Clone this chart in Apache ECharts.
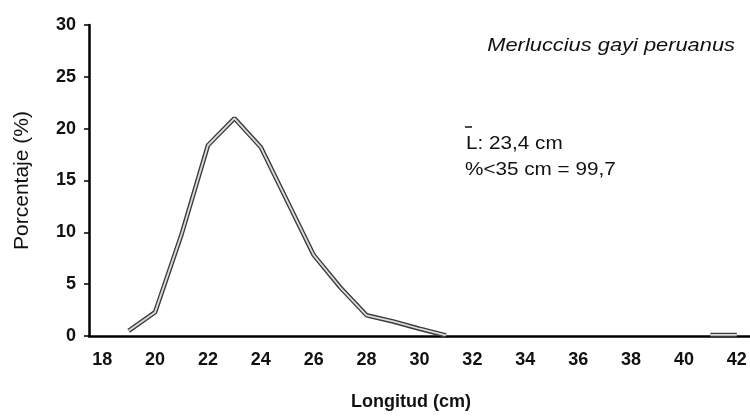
<!DOCTYPE html>
<html>
<head>
<meta charset="utf-8">
<script src="https://cdn.jsdelivr.net/npm/echarts@6/dist/echarts.min.js"></script>
<style>
  html, body { margin: 0; padding: 0; background: #fff; }
  #chart { width: 750px; height: 416px; }
</style>
</head>
<body>
<div id="chart"></div>
<script>
// longitud (cm) categories
const lengths = ['18', '19', '20', '21', '22', '23', '24', '25', '26', '27', '28', '29', '30',
  '31', '32', '33', '34', '35', '36', '37', '38', '39', '40', '41', '42']
// porcentaje (%) por talla
const percent = [null, 0.5, 2.3, 9.8, 18.4, 21.0, 18.2, 13.0, 7.8, 4.7, 2.0, 1.4, 0.7,
  0.05, null, null, null, null, null, null, null, null, null, 0.1, 0.1]
const yTicks = [0, 5, 10, 15, 20, 25, 30]

const font = 'Liberation Sans, Arial, sans-serif'
// the scanned figure is a bit wider than tall
const stretch = 1.15

const option = {
  animation: false,
  backgroundColor: '#fff',
  grid: {
    left: 89,
    right: 0,
    top: 25,
    bottom: 74
  },
  xAxis: {
    type: 'category',
    data: lengths,
    boundaryGap: true,
    name: 'Longitud (cm)',
    nameLocation: 'middle',
    nameGap: 57,
    nameTextStyle: {
      fontFamily: font,
      fontWeight: 'bold',
      fontSize: 18,
      color: '#111',
      padding: [0, 17, 0, 0]
    },
    axisLine: { lineStyle: { color: '#000', width: 2.5 } },
    axisTick: { interval: 0, length: 5, lineStyle: { color: '#000', width: 1.5 } },
    axisLabel: {
      interval: 1,
      margin: 15,
      fontFamily: font,
      fontWeight: 'bold',
      fontSize: 18,
      color: '#111'
    },
    splitLine: { show: false }
  },
  yAxis: {
    type: 'value',
    min: yTicks[0],
    max: yTicks[yTicks.length - 1],
    interval: 5,
    name: 'Porcentaje (%)',
    nameLocation: 'middle',
    nameGap: 56,
    nameTextStyle: {
      fontFamily: font,
      fontSize: 21,
      color: '#111'
    },
    axisLine: { show: true, lineStyle: { color: '#000', width: 2.5 } },
    axisTick: { show: true, length: 5, lineStyle: { color: '#000', width: 1.5 } },
    axisLabel: {
      margin: 13,
      fontFamily: font,
      fontWeight: 'bold',
      fontSize: 18,
      color: '#111'
    },
    splitLine: { show: false }
  },
  graphic: [
    {
      type: 'text',
      x: 735,
      y: 36,
      scaleX: stretch,
      style: {
        text: 'Merluccius gayi peruanus',
        align: 'right',
        verticalAlign: 'top',
        fontFamily: font,
        fontStyle: 'italic',
        fontSize: 19,
        fill: '#111'
      }
    },
    {
      type: 'line',
      shape: { x1: 465, y1: 127, x2: 472, y2: 127 },
      style: { stroke: '#111', lineWidth: 1.5 }
    },
    {
      type: 'text',
      x: 466,
      y: 135,
      scaleX: stretch,
      style: { text: 'L: 23,4 cm', verticalAlign: 'top', fontFamily: font, fontSize: 18, fill: '#111' }
    },
    {
      type: 'text',
      x: 465,
      y: 161,
      scaleX: stretch,
      style: { text: '%<35 cm = 99,7', verticalAlign: 'top', fontFamily: font, fontSize: 18, fill: '#111' }
    }
  ],
  series: [
    {
      type: 'line',
      data: percent,
      showSymbol: false,
      connectNulls: false,
      lineStyle: { color: '#3a3a3a', width: 4.5 },
      z: 3
    },
    {
      type: 'line',
      data: percent,
      showSymbol: false,
      connectNulls: false,
      lineStyle: { color: '#dcdcdc', width: 1.8 },
      z: 4
    }
  ]
}

const chart = echarts.init(document.getElementById('chart'))
chart.setOption(option)
</script>
</body>
</html>
